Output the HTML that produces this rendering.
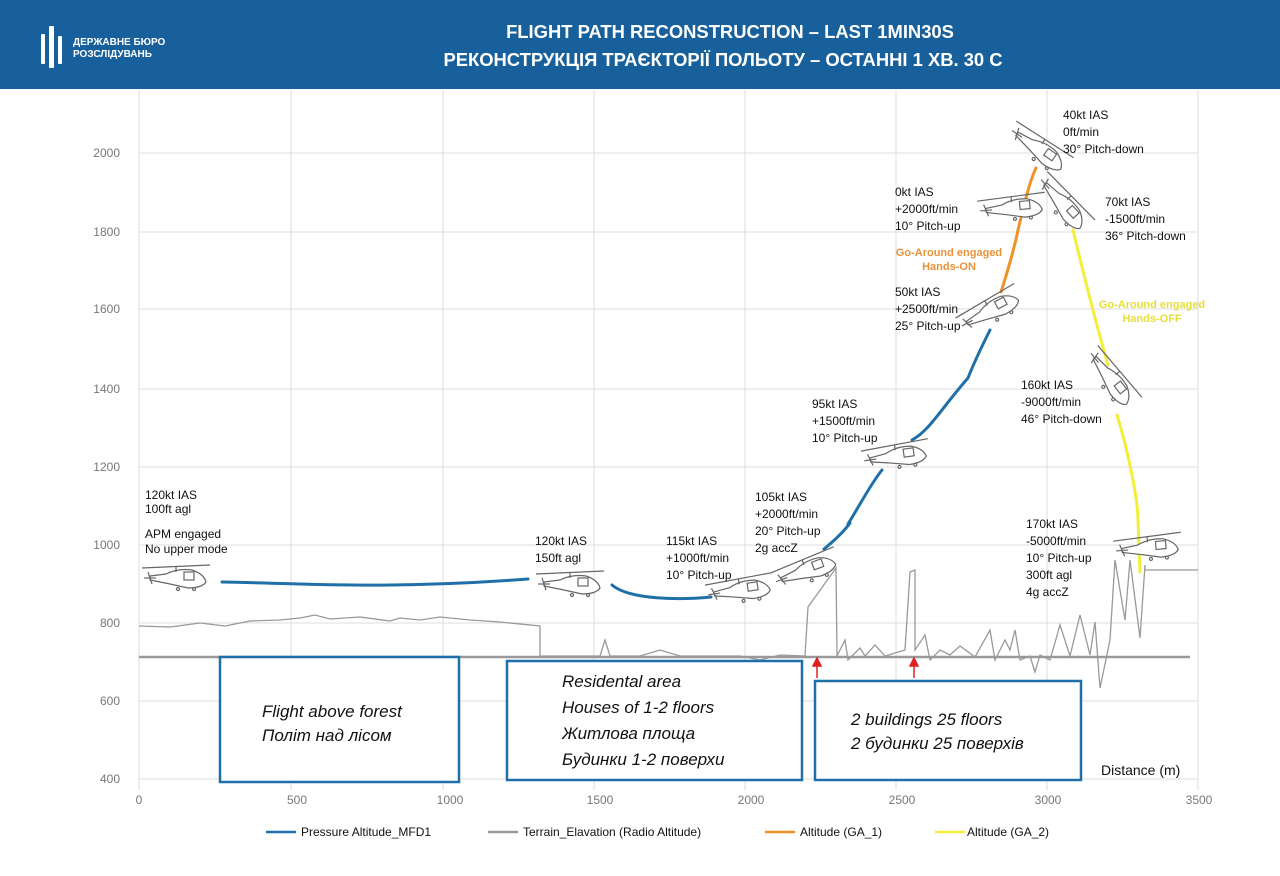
<!DOCTYPE html>
<html><head><meta charset="utf-8"><style>
body{margin:0;width:1280px;height:876px;overflow:hidden;background:#fff;font-family:"Liberation Sans",sans-serif}
svg{display:block}
</style></head><body>
<svg width="1280" height="876" viewBox="0 0 1280 876" font-family="Liberation Sans, sans-serif">
<defs>
<g id="h" fill="none" stroke="#666" stroke-width="1.2">
<path d="M-28,-2 L-12,-4 Q0,-10 14,-8 Q26,-4 28,4 Q24,10 10,10 L-8,6 L-28,2 Z" fill="#fff"/>
<line x1="-36" y1="-10" x2="32" y2="-13"/>
<line x1="-2" y1="-12" x2="-2" y2="-6"/>
<line x1="-30" y1="-6" x2="-26" y2="6"/><line x1="-34" y1="0" x2="-22" y2="0"/>
<rect x="6" y="-6" width="10" height="8"/>
<circle cx="0" cy="11" r="1.5"/><circle cx="16" cy="11" r="1.5"/>
</g>
</defs>
<rect x="0" y="0" width="1280" height="89" fill="#17609b"/>
<g fill="#fff"><rect x="41" y="34" width="4" height="30" rx="1"/><rect x="49" y="26" width="5" height="42" rx="1"/><rect x="58" y="36" width="4" height="28" rx="1"/></g>
<text x="73" y="45" fill="#fff" font-size="10" font-weight="bold">ДЕРЖАВНЕ БЮРО</text>
<text x="73" y="57" fill="#fff" font-size="10" font-weight="bold">РОЗСЛІДУВАНЬ</text>
<text x="730" y="38" fill="#fff" font-size="18.4" font-weight="bold" text-anchor="middle">FLIGHT PATH RECONSTRUCTION – LAST 1MIN30S</text>
<text x="723" y="66" fill="#fff" font-size="18.4" font-weight="bold" text-anchor="middle">РЕКОНСТРУКЦІЯ ТРАЄКТОРІЇ ПОЛЬОТУ – ОСТАННІ 1 ХВ. 30 С</text>
<g stroke="#dcdcdc" stroke-width="1">
<line x1="139" y1="90" x2="139" y2="790"/><line x1="291" y1="90" x2="291" y2="790"/><line x1="443" y1="90" x2="443" y2="790"/><line x1="594" y1="90" x2="594" y2="790"/><line x1="745" y1="90" x2="745" y2="790"/><line x1="896" y1="90" x2="896" y2="790"/><line x1="1047" y1="90" x2="1047" y2="790"/><line x1="1198" y1="90" x2="1198" y2="790"/>
<line x1="139" y1="153" x2="1198" y2="153"/><line x1="139" y1="232" x2="1198" y2="232"/><line x1="139" y1="309" x2="1198" y2="309"/><line x1="139" y1="389" x2="1198" y2="389"/><line x1="139" y1="467" x2="1198" y2="467"/><line x1="139" y1="545" x2="1198" y2="545"/><line x1="139" y1="623" x2="1198" y2="623"/><line x1="139" y1="701" x2="1198" y2="701"/><line x1="139" y1="779" x2="1198" y2="779"/>
</g>
<g fill="#777" font-size="12" text-anchor="end">
<text x="120" y="157">2000</text><text x="120" y="236">1800</text><text x="120" y="313">1600</text><text x="120" y="393">1400</text><text x="120" y="471">1200</text><text x="120" y="549">1000</text><text x="120" y="627">800</text><text x="120" y="705">600</text><text x="120" y="783">400</text>
</g>
<g fill="#777" font-size="12" text-anchor="middle">
<text x="139" y="804">0</text><text x="297" y="804">500</text><text x="450" y="804">1000</text><text x="600" y="804">1500</text><text x="751" y="804">2000</text><text x="902" y="804">2500</text><text x="1048" y="804">3000</text><text x="1199" y="804">3500</text>
</g>
<line x1="139" y1="657" x2="1190" y2="657" stroke="#999" stroke-width="2.5"/>
<polyline fill="none" stroke="#999" stroke-width="1.3" points="139,626 170,627 200,623 225,626 250,621 280,620 300,618 315,615 330,619 360,617 390,621 400,618 420,620 440,617 470,620 500,622 540,626 540,656 600,656 605,640 610,656 640,656 660,650 680,656 740,656 760,660 780,655 805,656 808,607 836,568 837,656 845,640 848,660 860,648 865,656 875,645 885,656 905,650 910,572 915,570 915,650 925,635 930,660 940,650 950,655 960,646 975,657 990,630 995,660 1005,640 1010,650 1015,630 1020,660 1030,656 1035,672 1040,655 1050,660 1060,625 1070,656 1080,615 1090,655 1095,622 1100,688 1110,640 1115,560 1125,620 1130,560 1140,638 1145,565 1145,570 1198,570"/>
<g fill="none" stroke-width="3" stroke-linecap="round">
<path d="M222,582 C300,583 380,590 528,579" stroke="#1f6fa8"/>
<path d="M612,585 C630,600 680,600 711,597" stroke="#1f6fa8"/>
<path d="M824,549 C835,540 845,530 850,523" stroke="#1f6fa8"/>
<path d="M848,524 C860,505 870,485 882,470" stroke="#1f6fa8"/>
<path d="M912,440 C930,430 940,410 968,378 C975,360 985,340 990,330" stroke="#1f6fa8"/>
<path d="M1001,292 C1008,270 1014,250 1018,230 C1024,205 1030,180 1036,168" stroke="#f0922a"/>
<path d="M1073,230 C1085,280 1095,320 1108,365" stroke="#f3ee3a"/>
<path d="M1117,415 C1128,450 1138,500 1138,520 L1140,572" stroke="#f3ee3a"/>
</g>
<use href="#h" transform="translate(178,578)"/>
<use href="#h" transform="translate(572,584)"/>
<use href="#h" transform="translate(742,590) rotate(-8)"/>
<use href="#h" transform="translate(808,570) rotate(-20)"/>
<use href="#h" transform="translate(898,456) rotate(-8)"/>
<use href="#h" transform="translate(992,310) rotate(-28)"/>
<use href="#h" transform="translate(1014,208) rotate(-5)"/>
<use href="#h" transform="translate(1040,150) rotate(35)"/>
<use href="#h" transform="translate(1064,205) rotate(48)"/>
<use href="#h" transform="translate(1112,380) rotate(52)"/>
<use href="#h" transform="translate(1150,548) rotate(-5)"/>
<g fill="#111" font-size="12">
<text x="145" y="499">120kt IAS</text><text x="145" y="513">100ft agl</text><text x="145" y="538">APM engaged</text><text x="145" y="553">No upper mode</text>
<text x="535" y="545">120kt IAS</text><text x="535" y="562">150ft agl</text>
<text x="666" y="545">115kt IAS</text><text x="666" y="562">+1000ft/min</text><text x="666" y="579">10° Pitch-up</text>
<text x="755" y="501">105kt IAS</text><text x="755" y="518">+2000ft/min</text><text x="755" y="535">20° Pitch-up</text><text x="755" y="552">2g accZ</text>
<text x="812" y="408">95kt IAS</text><text x="812" y="425">+1500ft/min</text><text x="812" y="442">10° Pitch-up</text>
<text x="895" y="296">50kt IAS</text><text x="895" y="313">+2500ft/min</text><text x="895" y="330">25° Pitch-up</text>
<text x="895" y="196">0kt IAS</text><text x="895" y="213">+2000ft/min</text><text x="895" y="230">10° Pitch-up</text>
<text x="1063" y="119">40kt IAS</text><text x="1063" y="136">0ft/min</text><text x="1063" y="153">30° Pitch-down</text>
<text x="1105" y="206">70kt IAS</text><text x="1105" y="223">-1500ft/min</text><text x="1105" y="240">36° Pitch-down</text>
<text x="1021" y="389">160kt IAS</text><text x="1021" y="406">-9000ft/min</text><text x="1021" y="423">46° Pitch-down</text>
<text x="1026" y="528">170kt IAS</text><text x="1026" y="545">-5000ft/min</text><text x="1026" y="562">10° Pitch-up</text><text x="1026" y="579">300ft agl</text><text x="1026" y="596">4g accZ</text>
</g>
<g font-size="11" font-weight="bold" text-anchor="middle">
<text x="949" y="256" fill="#e8923a">Go-Around engaged</text><text x="949" y="270" fill="#e8923a">Hands-ON</text>
<text x="1152" y="308" fill="#e6df3a">Go-Around engaged</text><text x="1152" y="322" fill="#e6df3a">Hands-OFF</text>
</g>
<g stroke="#e02020" stroke-width="1.5" fill="#e02020">
<line x1="817" y1="663" x2="817" y2="678"/><path d="M813,666 L817,658 L821,666 Z"/>
<line x1="914" y1="663" x2="914" y2="678"/><path d="M910,666 L914,658 L918,666 Z"/>
</g>
<g fill="#fff" stroke="#1f6fa8" stroke-width="2.5">
<rect x="220" y="657" width="239" height="125"/><rect x="507" y="661" width="295" height="119"/><rect x="815" y="681" width="266" height="99"/>
</g>
<g fill="#111" font-size="17" font-style="italic">
<text x="262" y="717">Flight above forest</text><text x="262" y="741">Політ над лісом</text>
<text x="562" y="687">Residental area</text><text x="562" y="713">Houses of 1-2 floors</text><text x="562" y="739">Житлова площа</text><text x="562" y="765">Будинки 1-2 поверхи</text>
<text x="851" y="725">2 buildings 25 floors</text><text x="851" y="749">2 будинки 25 поверхів</text>
</g>
<text x="1101" y="775" font-size="14" fill="#111">Distance (m)</text>
<g stroke-width="2.5">
<line x1="266" y1="832" x2="296" y2="832" stroke="#1f6fa8"/>
<line x1="488" y1="832" x2="518" y2="832" stroke="#999"/>
<line x1="765" y1="832" x2="795" y2="832" stroke="#f0922a"/>
<line x1="935" y1="832" x2="965" y2="832" stroke="#f3ee3a"/>
</g>
<g font-size="12" fill="#111">
<text x="301" y="836">Pressure Altitude_MFD1</text>
<text x="523" y="836">Terrain_Elavation (Radio Altitude)</text>
<text x="800" y="836">Altitude (GA_1)</text>
<text x="967" y="836">Altitude (GA_2)</text>
</g>
</svg>
</body></html>
